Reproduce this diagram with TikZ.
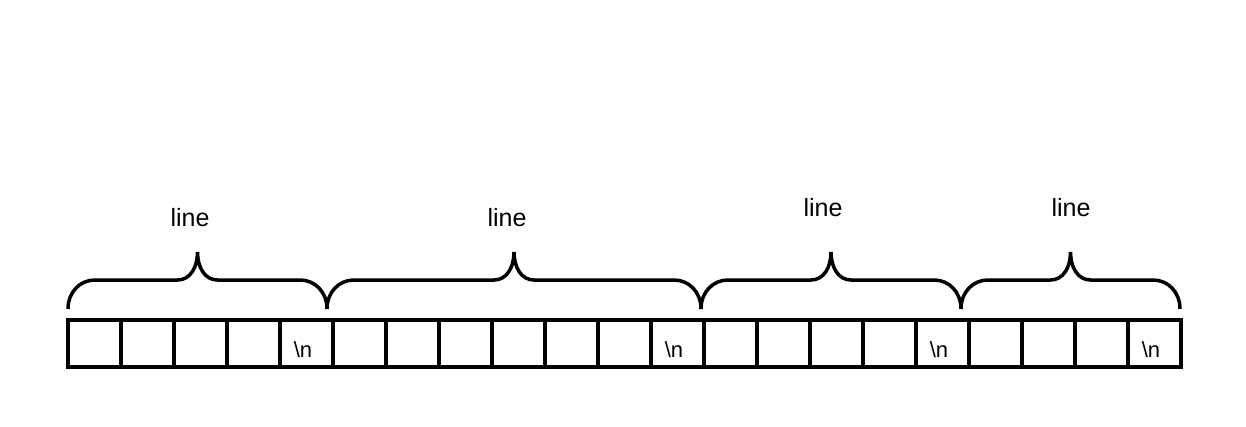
\documentclass[tikz,border=0pt]{standalone}
\usepackage{fontspec}
\setmainfont{Liberation Sans}
\usetikzlibrary{positioning, calc}

\begin{document}
\begin{tikzpicture}[
        x=1pt, y=1pt,
        node distance=0pt,
        cell/.style={rectangle, draw=black, line width=3.5pt, minimum width=53pt, minimum height=47pt, inner sep=0pt, outer sep=0pt},
        nlcell/.style={cell, font=\fontsize{22}{26}\selectfont, text height=27pt, text depth=0pt, execute at begin node=\hspace*{-7pt}},
        linebrace/.style={line width=3.5pt, to path={
            let \p1=(\tikztostart), \p2=(\tikztotarget), \n1={(\x1+\x2)/2} in
            (\p1) .. controls +(0pt,17pt) and +(-15pt,0pt) .. (\x1+27pt,\y1+29pt)
            -- (\n1-20pt,\y1+29pt) .. controls +(13pt,0pt) and +(0pt,-15pt) .. (\n1,\y1+57pt)
            .. controls +(0pt,-15pt) and +(-13pt,0pt) .. (\n1+20pt,\y1+29pt)
            -- (\x2-27pt,\y1+29pt) .. controls +(15pt,0pt) and +(0pt,17pt) .. (\p2)}},
        tag/.style={font=\fontsize{25}{30}\selectfont}
    ]
    \useasboundingbox (0,0) rectangle (1246,426);

    % First line
    \node[cell] (a1) at (94.5,82.5) {};
    \node[cell, right=of a1] (a2) {};
    \node[cell, right=of a2] (a3) {};
    \node[cell, right=of a3] (a4) {};
    \node[nlcell, right=of a4] (a5) {\textbackslash n};

    % Second line
    \node[cell, right=of a5] (b1) {};
    \node[cell, right=of b1] (b2) {};
    \node[cell, right=of b2] (b3) {};
    \node[cell, right=of b3] (b4) {};
    \node[cell, right=of b4] (b5) {};
    \node[cell, right=of b5] (b6) {};
    \node[nlcell, right=of b6] (b7) {\textbackslash n};

    % Third line
    \node[cell, right=of b7] (c1) {};
    \node[cell, right=of c1] (c2) {};
    \node[cell, right=of c2] (c3) {};
    \node[cell, right=of c3] (c4) {};
    \node[nlcell, right=of c4] (c5) {\textbackslash n};

    % Fourth line
    \node[cell, right=of c5] (d1) {};
    \node[cell, right=of d1] (d2) {};
    \node[cell, right=of d2] (d3) {};
    \node[nlcell, right=of d3] (d4) {\textbackslash n};

    % Brace ends
    \coordinate (k0) at ($(a1.north west)+(0,11)$);
    \coordinate (k1) at ($(a5.north east)+(-6,11)$);
    \coordinate (k2) at ($(b7.north east)+(-3,11)$);
    \coordinate (k3) at ($(c5.north east)+(-8,11)$);
    \coordinate (k4) at ($(d4.north east)+(-1,11)$);

    % Braces
    \draw[linebrace] (k0) to (k1);
    \draw[linebrace] (k1) to (k2);
    \draw[linebrace] (k2) to (k3);
    \draw[linebrace] (k3) to (k4);

    % Labels
    \node[tag] (t1) at (190,208) {line};
    \node[tag] (t2) at (507,208) {line};
    \node[tag] (t3) at (823,218) {line};
    \node[tag] (t4) at (1071,218) {line};

\end{tikzpicture}
\end{document}
